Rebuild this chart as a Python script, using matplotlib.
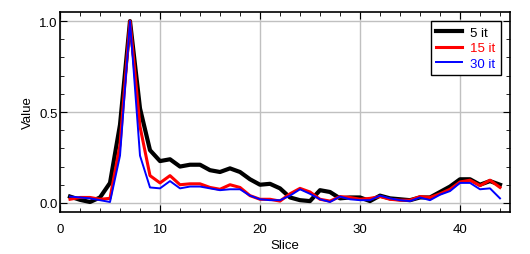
import matplotlib
matplotlib.use("Agg")
import matplotlib.pyplot as plt
from matplotlib.ticker import MultipleLocator

# data
slices = list(range(1, 45))
it5 = [0.035, 0.017, 0.005, 0.03, 0.11, 0.43, 1.0, 0.52, 0.29, 0.23,
       0.24, 0.20, 0.21, 0.21, 0.18, 0.17, 0.19, 0.17, 0.13, 0.10,
       0.105, 0.08, 0.03, 0.015, 0.01, 0.07, 0.06, 0.025, 0.03, 0.03,
       0.01, 0.04, 0.025, 0.02, 0.015, 0.03, 0.03, 0.06, 0.09, 0.13,
       0.13, 0.10, 0.12, 0.10]
it15 = [0.02, 0.03, 0.03, 0.02, 0.025, 0.32, 1.0, 0.42, 0.15, 0.11,
        0.15, 0.10, 0.105, 0.105, 0.085, 0.075, 0.10, 0.085, 0.04, 0.02,
        0.02, 0.01, 0.05, 0.08, 0.06, 0.02, 0.01, 0.035, 0.03, 0.02,
        0.025, 0.035, 0.02, 0.015, 0.015, 0.035, 0.03, 0.05, 0.075, 0.115,
        0.125, 0.095, 0.125, 0.085]
it30 = [0.035, 0.03, 0.025, 0.015, 0.005, 0.26, 1.0, 0.26, 0.085, 0.08,
        0.12, 0.08, 0.09, 0.09, 0.08, 0.07, 0.075, 0.075, 0.04, 0.02,
        0.015, 0.015, 0.04, 0.075, 0.05, 0.02, 0.005, 0.035, 0.02, 0.015,
        0.015, 0.04, 0.025, 0.015, 0.01, 0.03, 0.015, 0.045, 0.065, 0.11,
        0.11, 0.075, 0.08, 0.025]
labels = ["5 it", "15 it", "30 it"]
colors = ["black", "red", "blue"]

plt.rcParams["font.family"] = ["Liberation Sans", "DejaVu Sans"]
plt.rcParams["font.size"] = 9.5

fig = plt.figure(figsize=(5.3, 2.55), dpi=100)
ax = fig.add_axes([60/530, 42/255, 450/530, 200/255])

ax.plot(slices, it5, color=colors[0], lw=3.0, label=labels[0])
ax.plot(slices, it15, color=colors[1], lw=2.2, label=labels[1])
ax.plot(slices, it30, color=colors[2], lw=1.4, label=labels[2])

ax.set_xlim(0, 45)
ax.set_ylim(-0.05, 1.05)
ax.xaxis.set_major_locator(MultipleLocator(10))
ax.xaxis.set_minor_locator(MultipleLocator(2))
ax.yaxis.set_major_locator(MultipleLocator(0.5))
ax.yaxis.set_minor_locator(MultipleLocator(0.1))
ax.yaxis.set_major_formatter(matplotlib.ticker.FormatStrFormatter("%.1f"))
ax.tick_params(which="both", direction="in", top=True, right=True)
ax.tick_params(which="major", length=5)
ax.tick_params(axis="x", which="major", pad=8)
ax.tick_params(axis="y", which="major", pad=1.5)
ax.tick_params(which="minor", length=3)
ax.grid(True, which="major", color="#c0c0c0", lw=1)
ax.set_axisbelow(True)
for sp in ax.spines.values():
    sp.set_linewidth(1.2)

ax.set_xlabel("Slice", labelpad=3)
ax.set_ylabel("Value", labelpad=4)

leg = ax.legend(loc="upper right", fancybox=False, framealpha=1,
                edgecolor="black", borderaxespad=0.7, handlelength=2.0,
                labelspacing=0.25, handletextpad=0.6)
leg.get_frame().set_linewidth(1)
for txt, c in zip(leg.get_texts(), colors):
    txt.set_color(c)

fig.savefig("out.png", dpi=100)
